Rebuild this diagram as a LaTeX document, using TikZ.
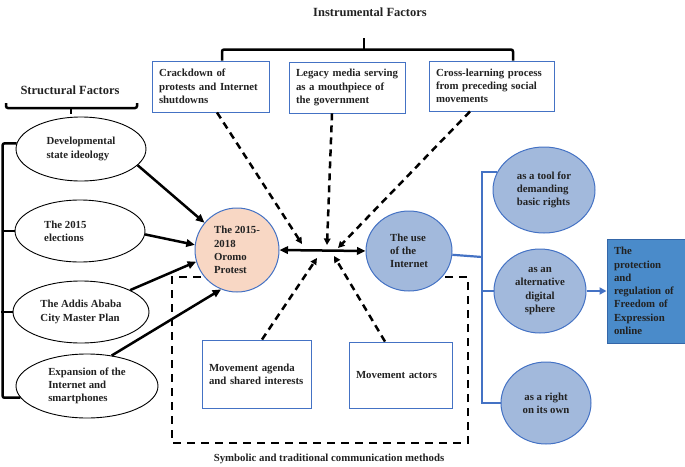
\documentclass[tikz,border=0pt]{standalone}
\usepackage{fontspec}
\setmainfont{Liberation Serif}
\usetikzlibrary{arrows.meta,calc,shapes.geometric}
\definecolor{bordblue}{HTML}{4472C4}
\definecolor{circblue}{HTML}{A2B9DC}
\definecolor{peach}{HTML}{F8D7C4}
\definecolor{protfill}{HTML}{4A8BCA}
\definecolor{protdraw}{HTML}{3466A8}
\definecolor{txt}{HTML}{222222}
\begin{document}
\begin{tikzpicture}[x=1pt,y=-1pt,
  lbl/.style={font=\fontsize{10.8pt}{13.3pt}\selectfont\bfseries, text=txt},
  ttl/.style={font=\fontsize{12.5pt}{15pt}\selectfont\bfseries, text=txt},
  tbox/.style={lbl, draw=bordblue, line width=0.9pt, fill=white, align=left, inner xsep=7pt, inner ysep=2pt},
  wellipse/.style={lbl, ellipse, draw=black, line width=0.9pt, fill=white, align=left, inner sep=0pt},
  bellipse/.style={lbl, ellipse, draw=bordblue, line width=1pt, fill=circblue, inner sep=0pt},
  solidarrow/.style={line width=2.5pt, -{Triangle[length=8.5pt,width=7.5pt]}},
  dasharrow/.style={line width=2.5pt, dash pattern=on 7pt off 5pt, -{Triangle[length=6.5pt,width=6.5pt]}},
  bracket/.style={line width=2.5pt, rounded corners=2pt},
  blueline/.style={draw=bordblue, line width=2.2pt},
]
\useasboundingbox (0,0) rectangle (685,466);

% dashed frame (behind circles)
\draw[line width=2.5pt, dash pattern=on 8pt off 6pt] (215,277) -- (172,277) -- (172,443) -- (468,443) -- (468,277) -- (440,277);

% titles
\node[ttl] (ti) at (370,12) {Instrumental Factors};
\node[ttl] (ts) at (70,90) {Structural Factors};
\node[lbl] (cap) at (329,459) {Symbolic and traditional communication methods};

% top boxes
\node[tbox, minimum height=51pt, text width=103pt] (b1) at (210.5,86.5) {Crackdown of\\protests and Internet\\shutdowns};
\node[tbox, minimum height=51pt, text width=102pt] (b2) at (347,87.5) {Legacy media serving\\as a mouthpiece of\\the government};
\node[tbox, minimum height=50pt, text width=111pt] (b3) at (491.5,86) {Cross-learning process\\from preceding social\\movements};

% bottom boxes
\node[tbox, minimum height=68pt, text width=95pt] (m1) at (256.5,374) {Movement agenda\\and shared interests\\[4pt]};
\node[tbox, minimum height=66pt, text width=89pt] (m2) at (400.5,375) {Movement actors};

% left ellipses
\node[wellipse, minimum width=130pt, minimum height=64pt] (e1) at (81,149) {Developmental\\state ideology};
\node[wellipse, minimum width=130pt, minimum height=62pt] (e2) at (80,231) {The 2015\\elections\hspace*{32pt}};
\node[wellipse, minimum width=136pt, minimum height=62pt] (e3) at (81,312) {The Addis Ababa\\City Master Plan};
\node[wellipse, minimum width=142pt, minimum height=64pt] (e4) at (87,386) {Expansion of the\\Internet and\\smartphones};

% central circles
\node[lbl, circle, draw=bordblue, line width=1pt, fill=peach, minimum size=84pt, inner sep=0pt, align=left] (c1) at (237,250) {The 2015-\\2018\\Oromo\\Protest};
\node[bellipse, minimum width=86pt, minimum height=80pt, align=left] (c2) at (409,251) {The use\\of the\\Internet};

% right ellipses
\node[bellipse, minimum width=102pt, minimum height=86pt, align=left] (t1) at (544,190) {as a tool for\\demanding\\basic rights};
\node[bellipse, minimum width=92pt, minimum height=84pt, align=center] (t2) at (540,291) {as an\\alternative\\digital\\sphere};
\node[bellipse, minimum width=90pt, minimum height=82pt, align=center] (t3) at (546,403) {as a right\\on its own};

% protection box
\node[lbl, draw=protdraw, fill=protfill, line width=1pt, text width=64pt, inner xsep=7pt, minimum height=104pt, align=left] (pb) at (646,291) {The\\protection\\and\\regulation of\\Freedom of\\Expression\\online};

% instrumental brace
\draw[bracket] ($(b1.north)+(11.5,0)$) |- ($(b3.north)+(21.5,-11)$) -- ($(b3.north)+(21.5,0)$);
\coordinate (tick1) at (364,50);
\draw[line width=2.5pt] (tick1) -- ++(0,-12);

% structural brace
\coordinate (sb) at (71,108);
\draw[bracket] (6,103) |- (137,108) -- (137,103);
\draw[line width=2.5pt] (sb) -- ++(0,6);

% left bracket
\draw[bracket] (e1.175) -- ++(-14,0) |- (e4.190);
\draw[line width=2.5pt] (e2.west) -- ++(-12.5,0);
\draw[line width=2.5pt] (e3.west) -- ++(-11.5,0);

% arrows to protest circle
\draw[solidarrow] (e1.-16) -- (c1.140);
\draw[solidarrow] (e2.-3) -- (c1.173);
\draw[solidarrow] (e3.24) -- (c1.196);
\draw[solidarrow] (e4.51) -- (c1.248);

% double arrow
\draw[line width=2.5pt, {Triangle[length=8.5pt,width=7.5pt]}-{Triangle[length=8.5pt,width=7.5pt]}] (c1.east) -- (c2.west);

% dashed arrows converging
\coordinate (h1) at (302,244);
\coordinate (h2) at (327,245);
\coordinate (h3) at (338,248);
\coordinate (h4) at (317,258);
\coordinate (h5) at (334,256);
\draw[dasharrow] ($(b1.south)+(6.5,0)$) -- (h1);
\draw[dasharrow] ($(b2.south)+(-15,0)$) -- (h2);
\draw[dasharrow] ($(b3.south)+(-21.5,0)$) -- (h3);
\draw[dasharrow] ($(m1.north)+(5.5,0)$) -- (h4);
\draw[dasharrow] ($(m2.north)+(-15.5,0)$) -- (h5);

% right bracket
\coordinate (j) at (482,257);
\draw[blueline] (c2.-5) -- (j);
\draw[blueline] (t1.159) -| (j) |- (t3.west);
\draw[blueline] (t2.west) -- ++(-12,0);
\draw[blueline, -{Triangle[length=7pt,width=7pt]}] (t2.east) -- (pb.west);
\end{tikzpicture}
\end{document}
